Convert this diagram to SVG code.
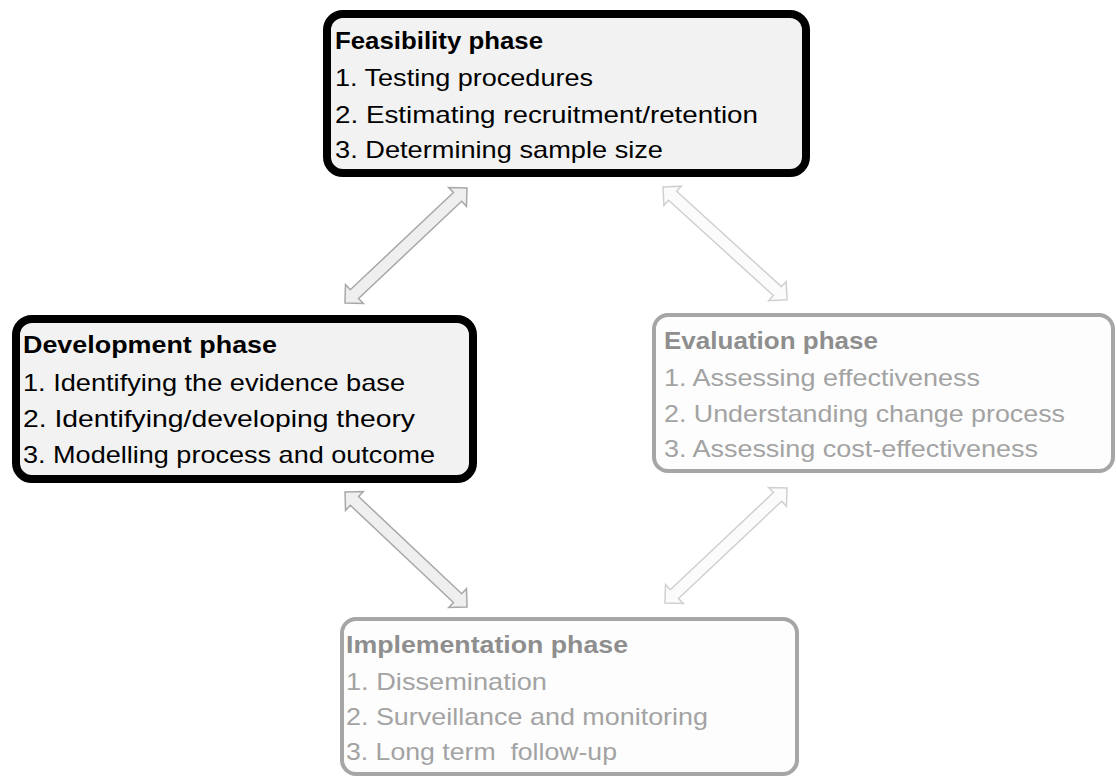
<svg xmlns="http://www.w3.org/2000/svg" width="1117" height="778" viewBox="0 0 1117 778">
<style>
.t{font-family:"Liberation Sans",Arial,sans-serif;font-size:24px}
.h{font-weight:bold}
.dark .t{fill:#000}
.light .t{fill:#a3a3a3}
.light .h{fill:#8e8e8e}
.boxd{fill:#f2f2f2;stroke:#000;stroke-width:8}
.boxl{fill:#fdfdfd;stroke:#a6a6a6;stroke-width:4}
.ad{fill:#efefef;stroke:#a8a8a8;stroke-width:1.5}
.al{fill:#fbfbfb;stroke:#d0d0d0;stroke-width:1.5}
</style>
<defs>
<polygon id="arr" points="0,0 13,-13 13,-6 154.7,-6 154.7,-13 167.7,0 154.7,13 154.7,6 13,6 13,13"/>
</defs>
<g id="connectors">
<use href="#arr" class="ad" transform="translate(467,188) rotate(136.7)"/>
<use href="#arr" class="al" transform="translate(663,187) rotate(42.3)"/>
<use href="#arr" class="ad" transform="translate(345,492) rotate(43.3)"/>
<use href="#arr" class="al" transform="translate(787,488) rotate(136.7)"/>
</g>
<g id="feasibility" class="dark">
<rect class="boxd" x="327" y="14" width="479" height="159" rx="16"/>
<text class="t h" x="335" y="49" textLength="208" lengthAdjust="spacingAndGlyphs">Feasibility phase</text>
<text class="t" x="335" y="86" textLength="258" lengthAdjust="spacingAndGlyphs">1. Testing procedures</text>
<text class="t" x="335" y="123" textLength="423" lengthAdjust="spacingAndGlyphs">2. Estimating recruitment/retention</text>
<text class="t" x="335" y="158" textLength="328" lengthAdjust="spacingAndGlyphs">3. Determining sample size</text>
</g>
<g id="development" class="dark">
<rect class="boxd" x="16" y="319" width="457" height="160" rx="16"/>
<text class="t h" x="23" y="353" textLength="254" lengthAdjust="spacingAndGlyphs">Development phase</text>
<text class="t" x="23" y="391" textLength="382" lengthAdjust="spacingAndGlyphs">1. Identifying the evidence base</text>
<text class="t" x="23" y="427" textLength="392" lengthAdjust="spacingAndGlyphs">2. Identifying/developing theory</text>
<text class="t" x="23" y="463" textLength="412" lengthAdjust="spacingAndGlyphs">3. Modelling process and outcome</text>
</g>
<g id="evaluation" class="light">
<rect class="boxl" x="654" y="315" width="459" height="156" rx="14"/>
<text class="t h" x="664" y="349" textLength="214" lengthAdjust="spacingAndGlyphs">Evaluation phase</text>
<text class="t" x="664" y="386" textLength="316" lengthAdjust="spacingAndGlyphs">1. Assessing effectiveness</text>
<text class="t" x="664" y="422" textLength="401" lengthAdjust="spacingAndGlyphs">2. Understanding change process</text>
<text class="t" x="664" y="457" textLength="374" lengthAdjust="spacingAndGlyphs">3. Assessing cost-effectiveness</text>
</g>
<g id="implementation" class="light">
<rect class="boxl" x="342" y="619" width="455" height="155" rx="14"/>
<text class="t h" x="346" y="653" textLength="282" lengthAdjust="spacingAndGlyphs">Implementation phase</text>
<text class="t" x="346" y="690" textLength="201" lengthAdjust="spacingAndGlyphs">1. Dissemination</text>
<text class="t" x="346" y="725" textLength="362" lengthAdjust="spacingAndGlyphs">2. Surveillance and monitoring</text>
<text class="t" x="346" y="760" textLength="271" lengthAdjust="spacingAndGlyphs" xml:space="preserve">3. Long term  follow-up</text>
</g>
</svg>
